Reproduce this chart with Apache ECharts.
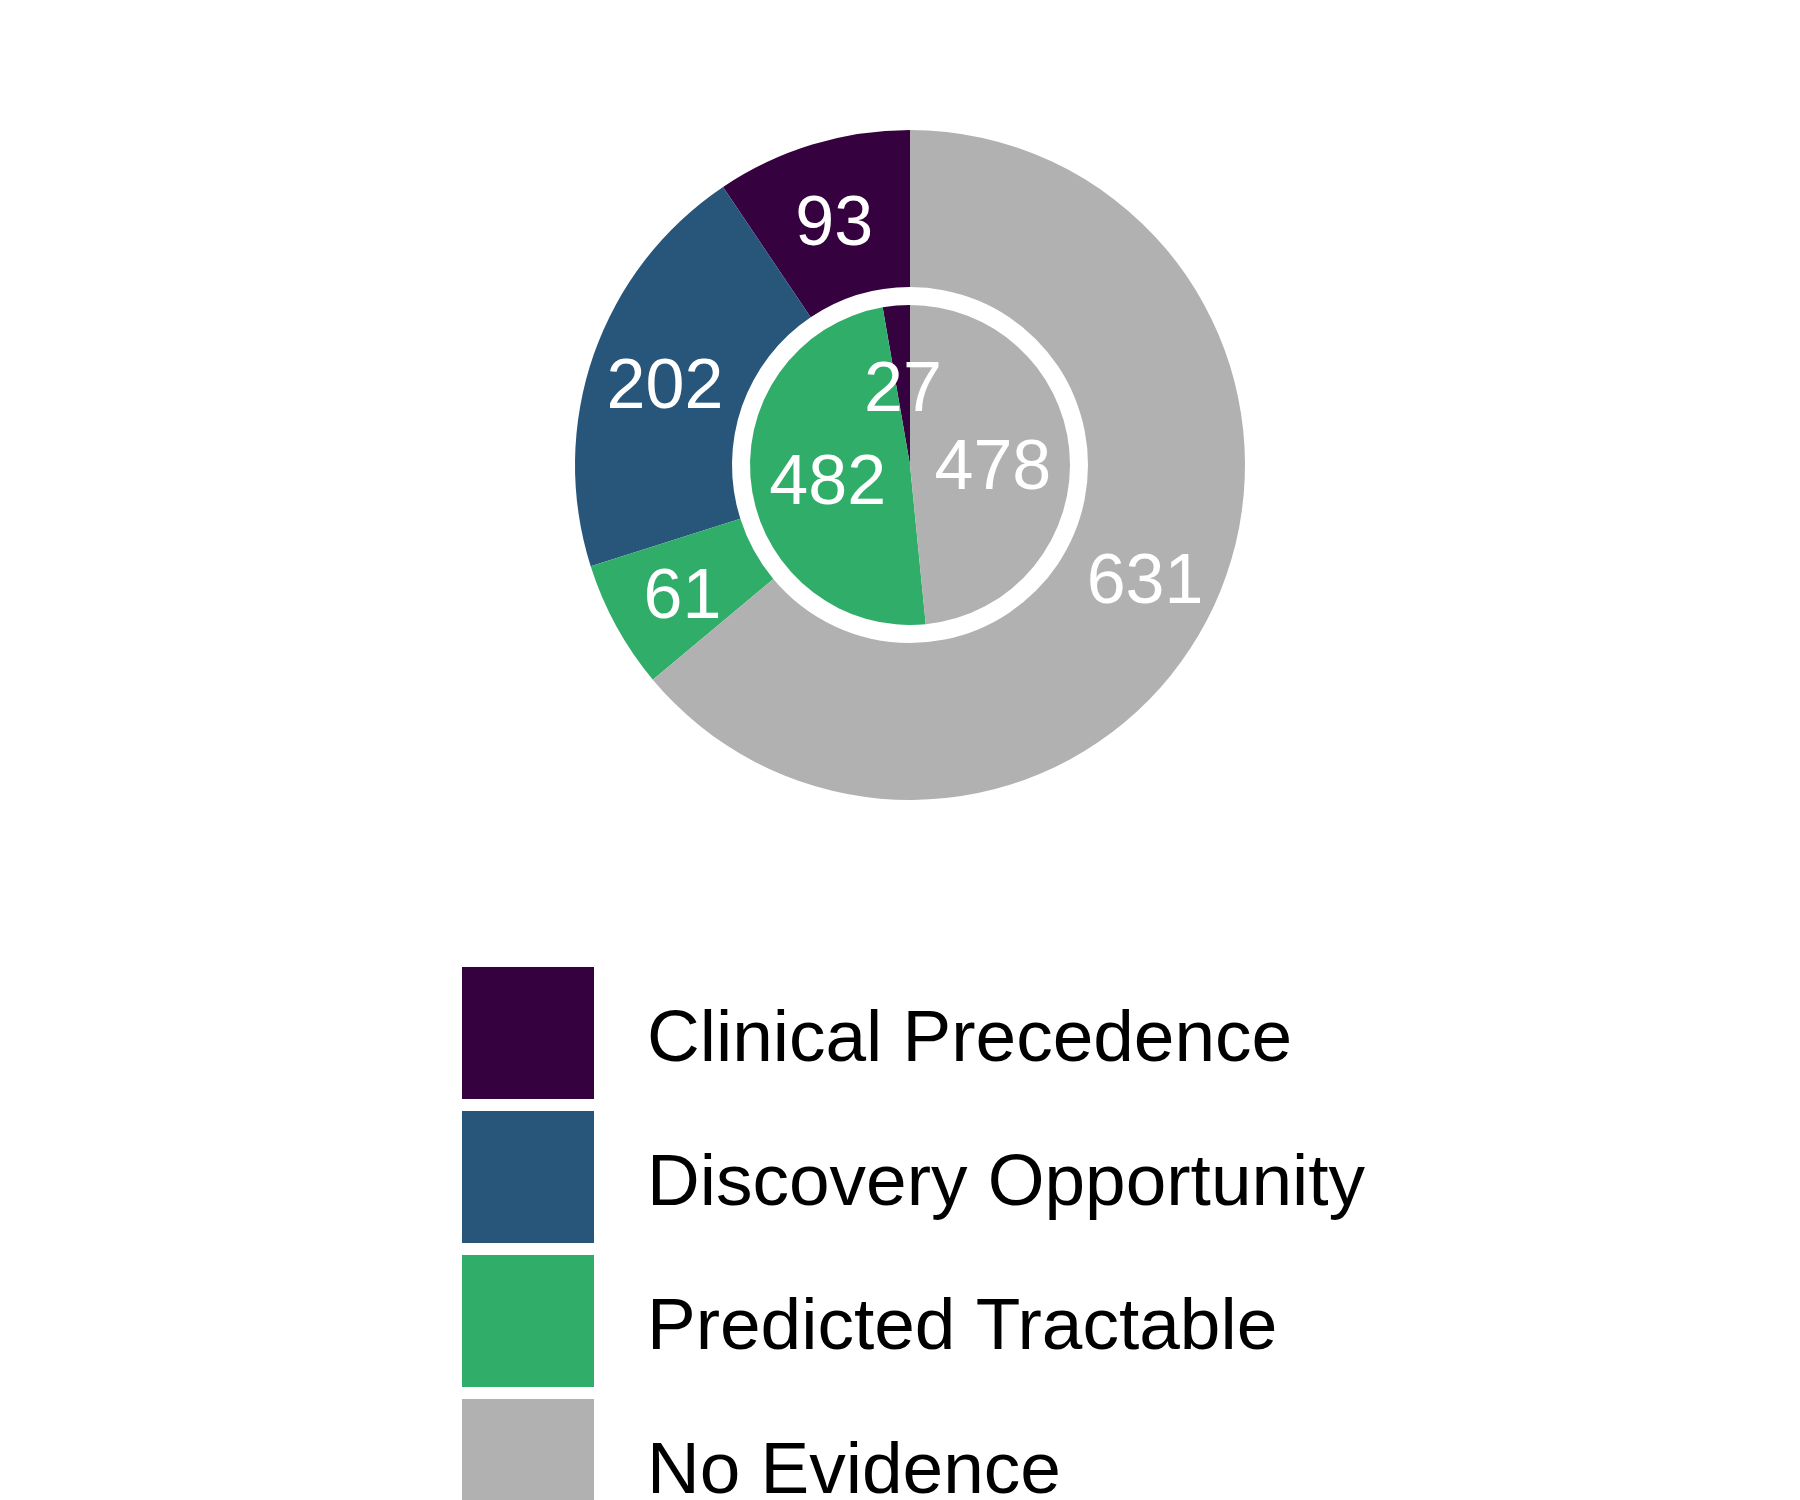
<!DOCTYPE html>
<html>
<head>
<meta charset="utf-8">
<script src="https://cdn.jsdelivr.net/npm/echarts@6/dist/echarts.min.js"></script>
<style>
html,body{margin:0;padding:0;background:#fff;}
#chart{width:1800px;height:1500px;}
</style>
</head>
<body>
<div id="chart"></div>
<script>
var categories = ['Clinical Precedence', 'Discovery Opportunity', 'Predicted Tractable', 'No Evidence'];
var colors = ['#36013F', '#28567A', '#31AD6A', '#B1B1B1'];
var outerValues = [93, 202, 61, 631];
var innerCategories = ['Clinical Precedence', 'Predicted Tractable', 'No Evidence'];
var innerValues = [27, 482, 478];

function colorOf(name) { return colors[categories.indexOf(name)]; }

var outerData = categories.map(function (c, i) {
  return { name: c, value: outerValues[i], itemStyle: { color: colorOf(c) } };
});
var innerData = innerCategories.map(function (c, i) {
  return { name: c, value: innerValues[i], itemStyle: { color: colorOf(c) } };
});

var labelStyle = {
  show: true,
  position: 'inside',
  formatter: '{c}',
  color: '#ffffff',
  fontSize: 70,
  offset: [0, 9],
  fontFamily: 'Liberation Sans, Arial, sans-serif'
};

var chart = echarts.init(document.getElementById('chart'), null, { renderer: 'canvas' });
chart.setOption({
  backgroundColor: '#ffffff',
  animation: false,
  legend: {
    orient: 'vertical',
    left: 462,
    top: 967,
    height: 1200,
    padding: 0,
    itemWidth: 132,
    itemHeight: 132,
    itemGap: 12,
    icon: 'rect',
    selectedMode: false,
    data: categories,
    formatter: function (name) { return '{t|' + name + '}'; },
    textStyle: {
      fontSize: 73,
      color: '#000000',
      fontFamily: 'Liberation Sans, Arial, sans-serif',
      rich: {
        t: {
          fontSize: 73,
          color: '#000000',
          fontFamily: 'Liberation Sans, Arial, sans-serif',
          padding: [16, 0, 0, 48]
        }
      }
    }
  },
  series: [
    {
      name: 'outer',
      type: 'pie',
      center: [910, 465],
      radius: [178, 335],
      startAngle: 90,
      clockwise: false,
      avoidLabelOverlap: false,
      silent: true,
      label: labelStyle,
      labelLine: { show: false },
      itemStyle: { borderWidth: 0 },
      data: outerData
    },
    {
      name: 'inner',
      type: 'pie',
      center: [910, 465],
      radius: [0, 160],
      startAngle: 90,
      clockwise: false,
      avoidLabelOverlap: false,
      silent: true,
      label: labelStyle,
      labelLine: { show: false },
      itemStyle: { borderWidth: 0 },
      data: innerData
    }
  ]
});
</script>
</body>
</html>
